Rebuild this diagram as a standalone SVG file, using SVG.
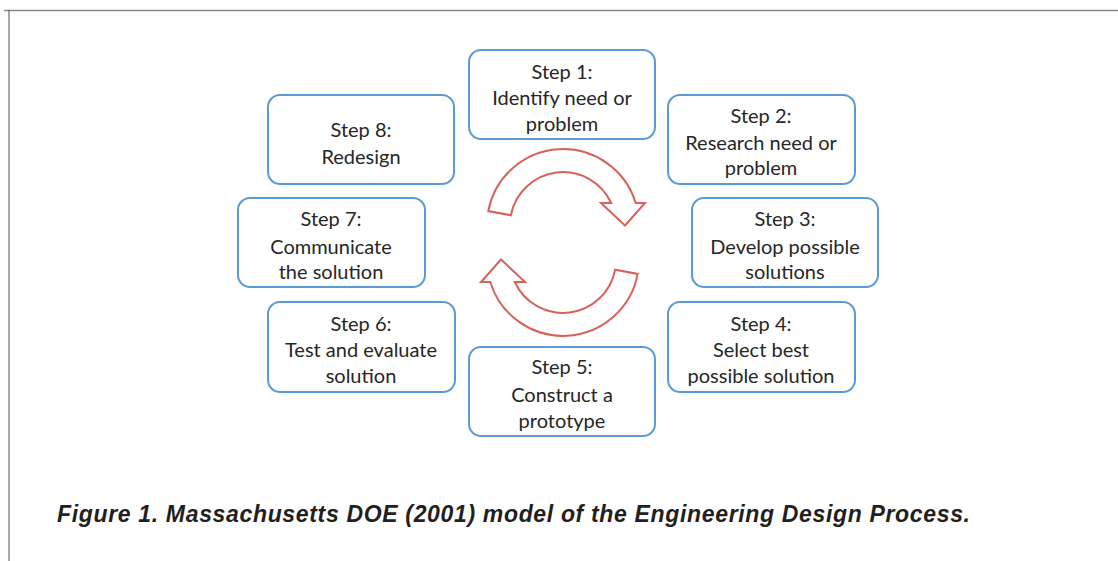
<svg xmlns="http://www.w3.org/2000/svg" width="1118" height="561" viewBox="0 0 1118 561">
<style>
.box{fill:#fff;stroke:#5b9bd5;stroke-width:2}
.t{font-family:Lato,"Liberation Sans",sans-serif;font-size:20px;fill:#262626;text-anchor:middle}
.arr{fill:#fff;stroke:#d6625a;stroke-width:2;stroke-linejoin:miter}
.cap{font-family:"Liberation Sans",Arial,sans-serif;font-size:23px;font-weight:bold;font-style:italic;fill:#231f20}
</style>
<rect width="1118" height="561" fill="#fff"/>
<g id="frame">
<line x1="4" y1="10.5" x2="1118" y2="10.5" stroke="#8a8a8a" stroke-width="1.5"/>
<line x1="9" y1="10" x2="9" y2="561" stroke="#555" stroke-width="1"/>
</g>
<g id="connectors">
<path class="arr" d="M488.3,211.1 A76,76 0 0 1 635.7,203 L645,203 L625,225.5 L601,203 L611.2,203 A53,53 0 0 0 510.9,215.3 Z"/>
<path class="arr" d="M637.7,273.9 A76,76 0 0 1 490.3,282 L481,282 L501,259.5 L525,282 L514.8,282 A53,53 0 0 0 615.1,269.7 Z"/>
</g>
<g id="step1">
<rect class="box" x="469" y="50" width="186" height="89" rx="12"/>
<text class="t" x="562" y="79">Step 1:</text>
<text class="t" x="562" y="105">Identify need or</text>
<text class="t" x="562" y="131">problem</text>
</g>
<g id="step2">
<rect class="box" x="668" y="95" width="187" height="89" rx="12"/>
<text class="t" x="761" y="123">Step 2:</text>
<text class="t" x="761" y="150">Research need or</text>
<text class="t" x="761" y="175">problem</text>
</g>
<g id="step3">
<rect class="box" x="692" y="198" width="186" height="89" rx="12"/>
<text class="t" x="785" y="226">Step 3:</text>
<text class="t" x="785" y="254">Develop possible</text>
<text class="t" x="785" y="279">solutions</text>
</g>
<g id="step4">
<rect class="box" x="668" y="302" width="187" height="90" rx="12"/>
<text class="t" x="761" y="331">Step 4:</text>
<text class="t" x="761" y="357">Select best</text>
<text class="t" x="761" y="383">possible solution</text>
</g>
<g id="step5">
<rect class="box" x="469" y="347" width="186" height="89" rx="12"/>
<text class="t" x="562" y="374">Step 5:</text>
<text class="t" x="562" y="402">Construct a</text>
<text class="t" x="562" y="428">prototype</text>
</g>
<g id="step6">
<rect class="box" x="268" y="302" width="187" height="90" rx="12"/>
<text class="t" x="361" y="331">Step 6:</text>
<text class="t" x="361" y="357">Test and evaluate</text>
<text class="t" x="361" y="383">solution</text>
</g>
<g id="step7">
<rect class="box" x="238" y="198" width="187" height="89" rx="12"/>
<text class="t" x="331" y="226">Step 7:</text>
<text class="t" x="331" y="254">Communicate</text>
<text class="t" x="331" y="279">the solution</text>
</g>
<g id="step8">
<rect class="box" x="268" y="95" width="186" height="89" rx="12"/>
<text class="t" x="361" y="137">Step 8:</text>
<text class="t" x="361" y="164">Redesign</text>
</g>
<text class="cap" x="57" y="522" textLength="913">Figure 1. Massachusetts DOE (2001) model of the Engineering Design Process.</text>
</svg>
